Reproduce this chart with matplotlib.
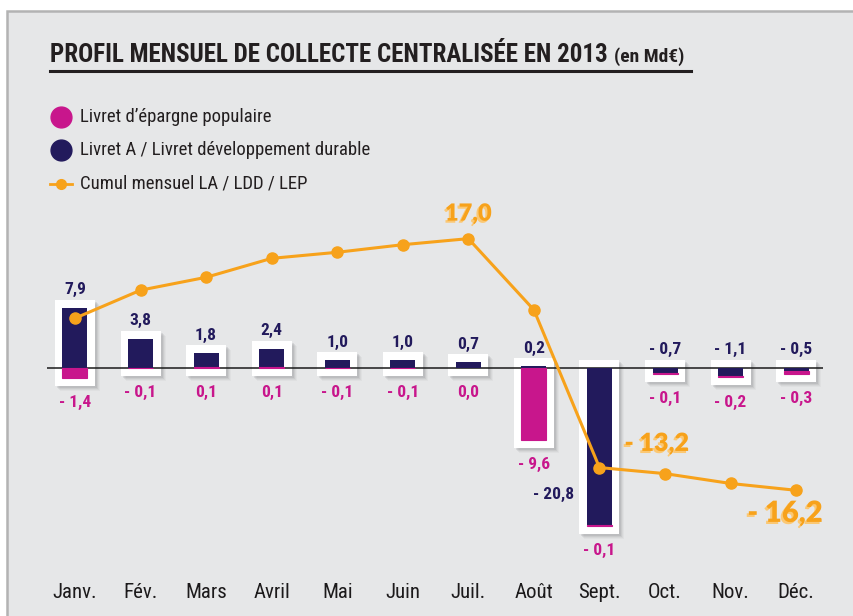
import matplotlib
matplotlib.use("Agg")
import matplotlib.pyplot as plt
from matplotlib import font_manager
from matplotlib.patches import Rectangle
from matplotlib.lines import Line2D
import matplotlib.patheffects as pe

# ---------------- data ----------------
months = ['Janv.', 'Fév.', 'Mars', 'Avril', 'Mai', 'Juin', 'Juil.', 'Août',
          'Sept.', 'Oct.', 'Nov.', 'Déc.']
livret_a = [7.9, 3.8, 1.8, 2.4, 1.0, 1.0, 0.7, 0.2, -20.8, -0.7, -1.1, -0.5]
lep = [-1.4, -0.1, 0.1, 0.1, -0.1, -0.1, 0.0, -9.6, -0.1, -0.1, -0.2, -0.3]
cumul = [6.5, 10.2, 11.9, 14.4, 15.2, 16.2, 17.0, 7.6, -13.2, -14.0, -15.3, -16.2]
cumul_labels = ['', '', '', '', '', '', '17,0', '', '- 13,2', '', '', '- 16,2']

title_main = "PROFIL MENSUEL DE COLLECTE CENTRALISÉE EN 2013"
title_unit = "(en Md€)"
legend_labels = ["Livret d’épargne populaire",
                 "Livret A / Livret développement durable",
                 "Cumul mensuel LA / LDD / LEP"]

# ---------------- style ----------------
PINK = '#c8168c'
NAVY = '#221a5c'
ORANGE = '#f7a21b'
BG = '#e6e7e8'
INK = '#231f20'

avail = {f.name for f in font_manager.fontManager.ttflist}
def pick(cands):
    for c in cands:
        if c in avail:
            return c
    return 'DejaVu Sans'
COND = pick(['Roboto Condensed', 'Liberation Sans Narrow', 'Open Sans Condensed',
             'DejaVu Sans Condensed', 'Liberation Sans'])
ROUND = pick(['Lato', 'Roboto', 'Open Sans', 'DejaVu Sans'])

W, H = 854, 616
fig = plt.figure(figsize=(W / 100, H / 100), dpi=100)
fig.patch.set_facecolor('white')

def fx(px):
    return px / W
def fy(py):
    return 1 - py / H

# panel background with grey border
fig.add_artist(Rectangle((fx(7), -0.1), 1.2, fy(11) + 0.1, transform=fig.transFigure,
                         facecolor=BG, edgecolor='#b3b3b3', linewidth=1.8, zorder=0))

# ---------------- axes ----------------
top_px, bot_px = 195, 570
zero_px, ppu = 367.5, 7.58
ax = fig.add_axes([fx(47), fy(bot_px), fx(823) - fx(47), (bot_px - top_px) / H])
ax.set_facecolor('none')
ax.set_xlim(-0.427, 11.41)
ax.set_ylim(-(bot_px - zero_px) / ppu, (zero_px - top_px) / ppu)
for s in ax.spines.values():
    s.set_visible(False)
ax.set_yticks([])
ax.set_xticks(range(len(months)))
ax.set_xticklabels(months, fontsize=15, family=COND, color='#1c1a1b')
ax.tick_params(axis='x', length=0, pad=9)

xu = 65.56  # px per x unit
box_hw = 20 / xu
bar_w = 25 / xu
pad_y = 8 / ppu

def fmt(v):
    s = f"{abs(v):.1f}".replace('.', ',')
    return ("- " + s) if v < 0 else s

for i, (a, p) in enumerate(zip(livret_a, lep)):
    # stacking
    if a >= 0 and p >= 0:
        segs = [(0, p, PINK), (p, a, NAVY)]
    elif a < 0 and p < 0:
        segs = [(0, a, NAVY), (a, p, PINK)]
    else:
        segs = [(0, a, NAVY), (0, p, PINK)]
    ends = [0] + [b + h for b, h, _ in segs]
    lo, hi = min(ends) - pad_y, max(ends) + pad_y
    # shadow
    for k, al in zip([5, 4, 3, 2], [0.05, 0.08, 0.11, 0.14]):
        ax.add_patch(Rectangle((i - box_hw + k / xu, lo - k / ppu), 2 * box_hw, hi - lo,
                               facecolor='#6d6e71', alpha=al, edgecolor='none', zorder=1))
    ax.add_patch(Rectangle((i - box_hw, lo), 2 * box_hw, hi - lo,
                           facecolor='white', edgecolor='none', zorder=2))
    for b, h, c in segs:
        if h == 0:
            continue
        ax.bar(i, h, bottom=b, width=bar_w, color=c, zorder=4 if c == NAVY else 5,
               edgecolor=c, linewidth=0.8 if c == PINK else 0)
    # labels
    if a < -10:
        ax.annotate(fmt(a), xy=(i - box_hw, -16.8), xytext=(-4, 0), textcoords='offset points',
                    ha='right', va='center', fontsize=12.5, family=COND, color=NAVY,
                    fontweight='bold')
    else:
        ax.annotate(fmt(a), xy=(i, hi), xytext=(0, 7), textcoords='offset points',
                    ha='center', va='center', fontsize=12.5, family=COND, color=NAVY,
                    fontweight='bold')
    ax.annotate(fmt(p), xy=(i, lo), xytext=(0, -12), textcoords='offset points',
                ha='center', va='center', fontsize=12.5, family=COND, color=PINK,
                fontweight='bold')

ax.axhline(0, color='#1a1a1a', lw=1.1, zorder=3)

# cumulative line
ax.plot(range(len(cumul)), cumul, color=ORANGE, lw=2.2, marker='o', markersize=8,
        zorder=6, solid_capstyle='round')
offsets = {6: (0, 18, 'center'), 8: (18, 17, 'left'), 11: (-8, -17, 'center')}
sizes = {6: 17, 8: 18, 11: 21}
for i, lab in enumerate(cumul_labels):
    if not lab:
        continue
    dx, dy, ha = offsets[i]
    ax.annotate(lab, xy=(i, cumul[i]), xytext=(dx, dy), textcoords='offset points',
                ha=ha, va='center', fontsize=sizes[i], family=ROUND, fontweight='heavy',
                color=ORANGE, zorder=7,
                path_effects=[pe.SimplePatchShadow(offset=(-1.5, -1.5), shadow_rgbFace='#fbc874',
                                                   alpha=1.0), pe.Normal()])

# ---------------- title ----------------
t1 = fig.text(fx(50), fy(62), title_main, fontsize=21, family=COND, fontweight='bold',
              color=INK, ha='left', va='baseline')
fig.canvas.draw()
r = fig.canvas.get_renderer()
target = 606 - 50
wcur = t1.get_window_extent(r).width
t1.set_fontsize(21 * target / wcur)
fig.canvas.draw()
bb = t1.get_window_extent(r)
t2 = fig.text(fx(bb.x1 + 6), fy(62), title_unit, fontsize=14, family=COND, fontweight='bold',
              color=INK, ha='left', va='baseline')
fig.add_artist(Line2D([fx(50), fx(691)], [fy(71), fy(71)], transform=fig.transFigure,
                      color=INK, lw=2.2))

# ---------------- legend ----------------
rows = [117, 150, 184]
fig.add_artist(Line2D([fx(61)], [fy(rows[0])], transform=fig.transFigure, marker='o',
                      markersize=15, color=PINK, linestyle='none'))
fig.add_artist(Line2D([fx(61)], [fy(rows[1])], transform=fig.transFigure, marker='o',
                      markersize=15, color=NAVY, linestyle='none'))
fig.add_artist(Line2D([fx(50), fx(72)], [fy(rows[2]), fy(rows[2])], transform=fig.transFigure,
                      color=ORANGE, lw=2))
fig.add_artist(Line2D([fx(61)], [fy(rows[2])], transform=fig.transFigure, marker='o',
                      markersize=7, color=ORANGE, linestyle='none'))
for y, lab in zip(rows, legend_labels):
    fig.text(fx(80), fy(y), lab, fontsize=13.5, family=COND, color=INK,
             ha='left', va='center')

fig.savefig('out.png', dpi=100, facecolor=fig.get_facecolor())
